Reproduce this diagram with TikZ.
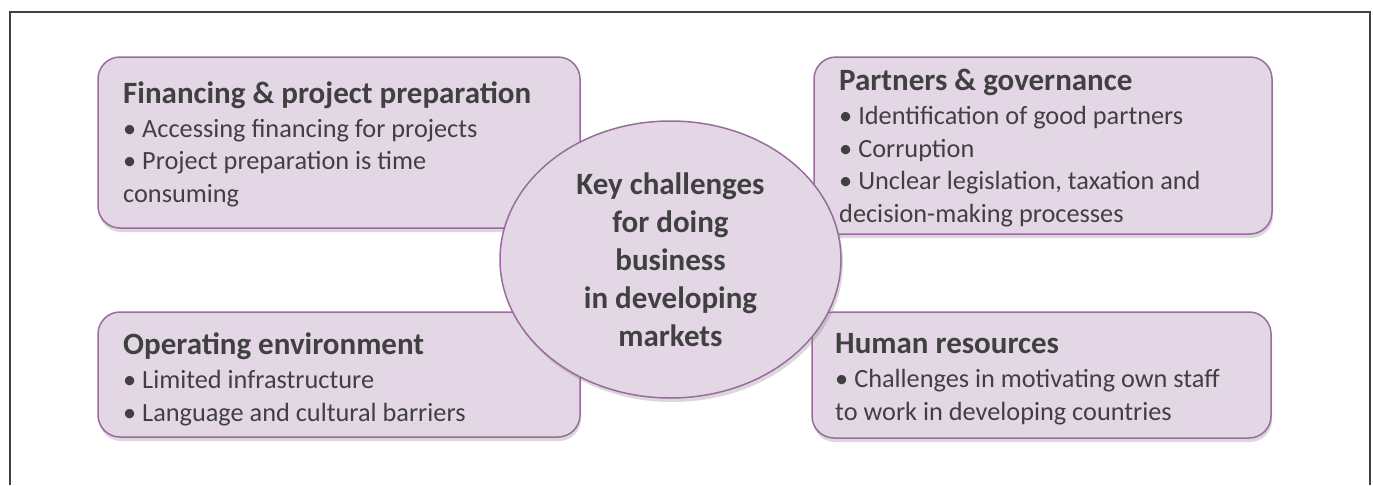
\documentclass[tikz,border=0pt]{standalone}
\usepackage{fontspec}
\setmainfont{Carlito}
\usepackage{xcolor}
\usetikzlibrary{shapes.geometric,shadows}

\definecolor{boxfill}{HTML}{E3D7E5}
\definecolor{boxline}{HTML}{9A6B9E}
\definecolor{inktext}{HTML}{404040}
\definecolor{framegray}{HTML}{404040}

\newcommand{\boxhead}[1]{{\fontsize{31}{34}\selectfont\bfseries #1}}

\begin{document}
\begin{tikzpicture}[x=1pt,y=-1pt,
        challenge/.style={rectangle, rounded corners=22pt, draw=boxline, line width=1.5pt,
            fill=boxfill, inner sep=0pt,
            drop shadow={shadow xshift=1pt, shadow yshift=-4pt, opacity=0.3, fill=black!50}},
        bullets/.style={anchor=base west, inner sep=0pt, align=left, text=inktext,
            font=\fontsize{26.3}{32.5}\selectfont}]
    \useasboundingbox (0,0) rectangle (1373,485);

    % outer frame (open at the bottom)
    \draw[framegray, line width=2pt] (10,485) -- (10,12) -- (1370,12) -- (1370,485);

    % the four boxes
    \node[challenge, minimum width=482pt, minimum height=171pt] (fin)   at (339,142.5) {};
    \node[challenge, minimum width=458pt, minimum height=177pt] (part)  at (1043,145.5) {};
    \node[challenge, minimum width=482pt, minimum height=125pt] (oper)  at (339,374.5) {};
    \node[challenge, minimum width=459pt, minimum height=126pt] (human) at (1041.5,375) {};

    % centre
    \node[ellipse, draw=boxline, line width=1.5pt, fill=boxfill, inner sep=0pt,
          minimum width=341pt, minimum height=277pt, align=center, text=inktext,
          font=\fontsize{31}{38}\selectfont\bfseries,
          drop shadow={shadow xshift=2pt, shadow yshift=-4pt, opacity=0.3, fill=black!50}]
          (key) at (670.5,259.5) {Key challenges\\for doing\\business\\in developing\\markets};

    % box texts (placed by the baseline of their last line)
    \node[bullets] (fintext) at (123,202)
        {\boxhead{Financing \& project preparation}\\[1.5pt]
         • Accessing financing for projects\\
         • Project preparation is time\\
         consuming};
    \node[bullets] (parttext) at (839,222)
        {\boxhead{Partners \& governance}\\[1.5pt]
         • Identification of good partners\\
         • Corruption\\
         • Unclear legislation, taxation and\\
         decision-making processes};
    \node[bullets] (opertext) at (123,421)
        {\boxhead{Operating environment}\\[1.5pt]
         • Limited infrastructure\\
         • Language and cultural barriers};
    \node[bullets] (humantext) at (835,420)
        {\boxhead{Human resources}\\[1.5pt]
         • Challenges in motivating own staff\\
         to work in developing countries};
\end{tikzpicture}
\end{document}
